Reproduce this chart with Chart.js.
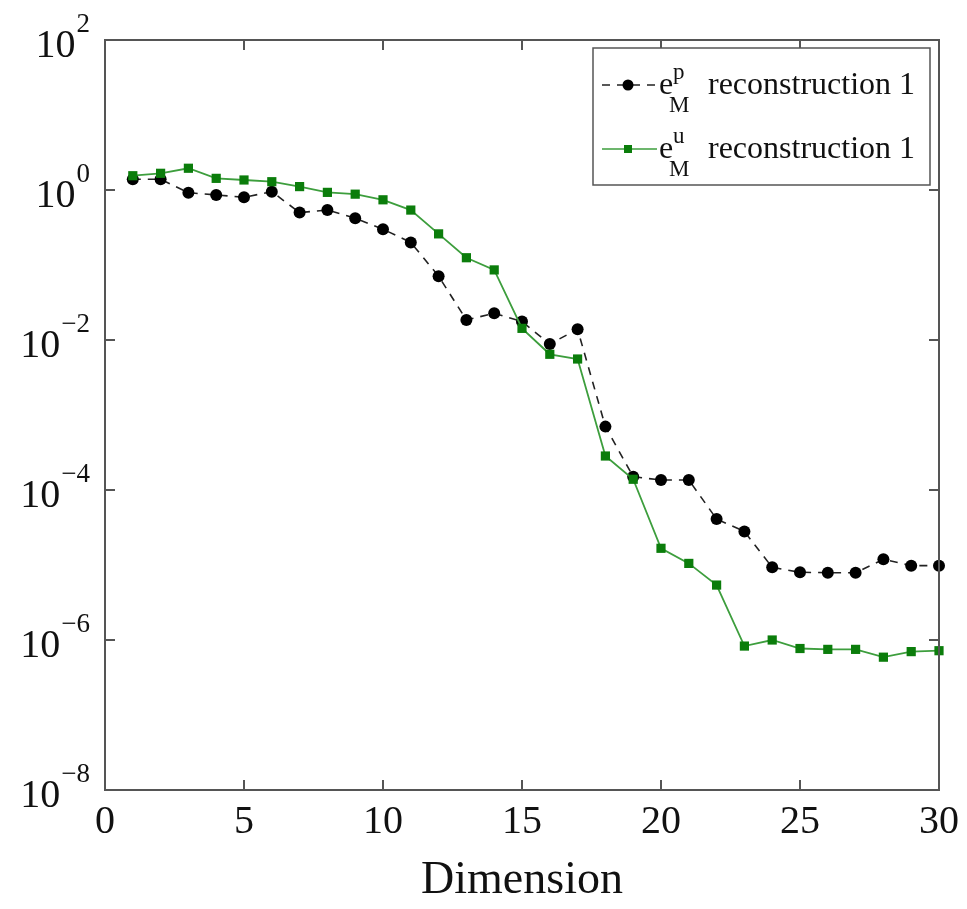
<!DOCTYPE html>
<html>
<head>
<meta charset="utf-8">
<script src="https://cdn.jsdelivr.net/npm/chart.js@4/dist/chart.umd.min.js"></script>
<style>
    html, body { margin: 0; padding: 0; background: #fff; }
</style>
</head>
<body>
<canvas id="chart" width="967" height="909"></canvas>
<script>
// Values
const dims = [1, 2, 3, 4, 5, 6, 7, 8, 9, 10, 11, 12, 13, 14, 15,
    16, 17, 18, 19, 20, 21, 22, 23, 24, 25, 26, 27, 28, 29, 30];

const errP = [1.39, 1.39, 0.92, 0.86, 0.80, 0.95, 0.50, 0.54, 0.42, 0.30,
    0.20, 0.071, 0.0185, 0.0227, 0.0176, 0.00885, 0.0139, 7.0e-4, 1.5e-4, 1.36e-4,
    1.36e-4, 4.1e-5, 2.8e-5, 9.3e-6, 8.0e-6, 7.9e-6, 7.9e-6, 1.19e-5, 9.8e-6, 9.8e-6];

const errU = [1.55, 1.67, 1.95, 1.43, 1.36, 1.29, 1.11, 0.93, 0.88, 0.74,
    0.54, 0.26, 0.125, 0.086, 0.0143, 0.00645, 0.00558, 2.84e-4, 1.39e-4, 1.67e-5,
    1.05e-5, 5.4e-6, 8.3e-7, 1.0e-6, 7.7e-7, 7.5e-7, 7.5e-7, 5.9e-7, 7.0e-7, 7.2e-7];

const xTicks = [0, 5, 10, 15, 20, 25, 30];
const yExponents = [2, 0, -2, -4, -6, -8];

const legendItems = [
    {sup: 'p', label: 'reconstruction 1', key: 'p'},
    {sup: 'u', label: 'reconstruction 1', key: 'u'},
];

const SERIF = '"Liberation Serif", "DejaVu Serif", serif';
const GREEN_LINE = '#3d9e3d';
const GREEN_MARK = '#0b7d0b';
const FRAME = '#555';

function toPoints(values) {
    return dims.map((d, i) => ({x: d, y: values[i]}));
}

// Frame, inward ticks, y labels with exponents and the legend
const decorations = {
    id: 'decorations',
    afterDraw(chart) {
        const ctx = chart.ctx;
        const area = chart.chartArea;
        const xs = chart.scales.x;
        const ys = chart.scales.y;
        const tick = 10;

        ctx.save();
        ctx.strokeStyle = FRAME;
        ctx.lineWidth = 2;
        ctx.strokeRect(area.left, area.top, area.right - area.left, area.bottom - area.top);

        ctx.beginPath();
        xTicks.forEach(v => {
            const px = xs.getPixelForValue(v);
            ctx.moveTo(px, area.bottom);
            ctx.lineTo(px, area.bottom - tick);
            ctx.moveTo(px, area.top);
            ctx.lineTo(px, area.top + tick);
        });
        yExponents.forEach(e => {
            const py = ys.getPixelForValue(Math.pow(10, e));
            ctx.moveTo(area.left, py);
            ctx.lineTo(area.left + tick, py);
            ctx.moveTo(area.right, py);
            ctx.lineTo(area.right - tick, py);
        });
        ctx.stroke();

        // y tick labels: 10 with raised exponent
        ctx.fillStyle = '#111';
        ctx.textBaseline = 'alphabetic';
        ctx.textAlign = 'right';
        yExponents.forEach(e => {
            const py = ys.getPixelForValue(Math.pow(10, e));
            const expText = e < 0 ? '\u2212' + Math.abs(e) : String(e);
            ctx.font = '27px ' + SERIF;
            const right = area.left - 15;
            ctx.fillText(expText, right, py - 8);
            const w = ctx.measureText(expText).width;
            ctx.font = '40px ' + SERIF;
            ctx.fillText('10', right - w - 1, py + 17);
        });

        // legend box
        const box = {x: 593, y: 48, w: 337, h: 137};
        ctx.fillStyle = '#fff';
        ctx.fillRect(box.x, box.y, box.w, box.h);
        ctx.lineWidth = 1.5;
        ctx.strokeStyle = FRAME;
        ctx.strokeRect(box.x, box.y, box.w, box.h);

        legendItems.forEach((item, i) => {
            const cy = box.y + 37 + i * 64;
            ctx.lineWidth = 1.5;
            if (item.key === 'p') {
                ctx.strokeStyle = '#222';
                ctx.setLineDash([8, 7]);
            } else {
                ctx.strokeStyle = GREEN_LINE;
                ctx.setLineDash([]);
            }
            ctx.beginPath();
            ctx.moveTo(box.x + 9, cy);
            ctx.lineTo(box.x + 64, cy);
            ctx.stroke();
            ctx.setLineDash([]);
            if (item.key === 'p') {
                ctx.fillStyle = '#000';
                ctx.beginPath();
                ctx.arc(box.x + 35, cy, 5.5, 0, Math.PI * 2);
                ctx.fill();
            } else {
                ctx.fillStyle = GREEN_MARK;
                ctx.fillRect(box.x + 31, cy - 4, 8, 8);
            }

            const base = cy + 9;
            ctx.fillStyle = '#111';
            ctx.textAlign = 'left';
            ctx.font = '32px ' + SERIF;
            ctx.fillText('e', box.x + 66, base);
            ctx.font = '23px ' + SERIF;
            ctx.fillText(item.sup, box.x + 80, base - 15);
            ctx.fillText('M', box.x + 76, base + 18);
            ctx.font = '32px ' + SERIF;
            ctx.fillText(item.label, box.x + 115, base);
        });
        ctx.restore();
    }
};

new Chart(document.getElementById('chart'), {
    type: 'line',
    data: {
        datasets: [{
            label: 'e_M^u reconstruction 1',
            data: toPoints(errU),
            borderColor: GREEN_LINE,
            backgroundColor: GREEN_MARK,
            borderWidth: 1.8,
            pointStyle: 'rect',
            pointRadius: 6.5,
            pointBorderWidth: 0,
            tension: 0,
            clip: false,
            order: 1,
        }, {
            label: 'e_M^p reconstruction 1',
            data: toPoints(errP),
            borderColor: '#222',
            backgroundColor: '#000',
            borderWidth: 1.6,
            borderDash: [8, 7],
            pointStyle: 'circle',
            pointRadius: 6,
            pointBorderWidth: 0,
            tension: 0,
            clip: false,
            order: 2,
        }]
    },
    options: {
        responsive: false,
        animation: false,
        events: [],
        layout: {padding: {left: 105, right: 28, top: 40, bottom: 0}},
        plugins: {legend: {display: false}, tooltip: {enabled: false}},
        scales: {
            x: {
                type: 'linear',
                min: 0,
                max: 30,
                afterBuildTicks: (scale) => {
                    scale.ticks = xTicks.map(v => ({value: v}));
                },
                afterFit: (scale) => { scale.height = 119; },
                grid: {display: false},
                border: {display: false},
                ticks: {
                    color: '#111',
                    font: {family: SERIF, size: 40},
                    padding: 0,
                    maxRotation: 0,
                },
                title: {
                    display: true,
                    text: 'Dimension',
                    color: '#111',
                    font: {family: SERIF, size: 46},
                    padding: {top: 0, bottom: 0},
                },
            },
            y: {
                type: 'logarithmic',
                min: 1e-8,
                max: 1e2,
                display: false,
            }
        }
    },
    plugins: [decorations]
});
</script>
</body>
</html>
